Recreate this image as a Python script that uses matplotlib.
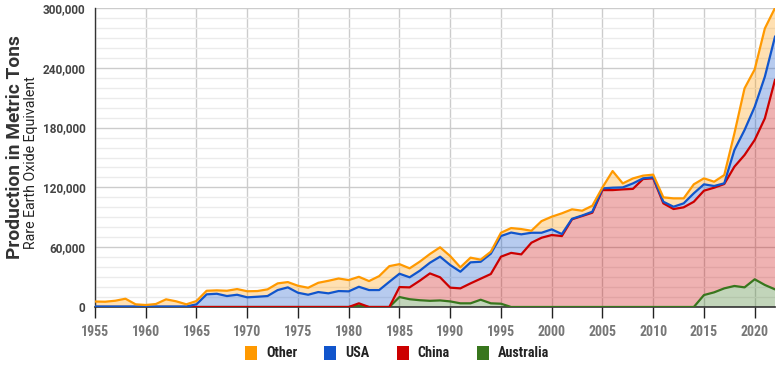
import matplotlib
matplotlib.use("Agg")
import matplotlib.pyplot as plt
import numpy as np
from matplotlib import font_manager
from matplotlib.patches import Patch
from matplotlib.ticker import FuncFormatter, MultipleLocator

# rare earth production, metric tons REO
years = np.arange(1955, 2023)

australia = [0] * 26 + [1500, 0, 0, 0,
             10000, 7800, 6800, 6200, 6600, 5600, 3700, 3700, 7300, 3700,
             3300] + [0] * 19 + [12000, 14700, 18700, 21100, 19700, 27800, 22100, 17700]

china = [0] * 26 + [2200, 0, 0, 0,
         10000, 11900, 19600, 27500, 23200, 13800, 15000, 20000, 21100, 29400,
         47200, 54300, 52800, 64500, 69500, 72200, 71200, 88000, 91300, 94600,
         117300, 117300, 118000, 118500, 128400, 129100, 104000, 98300, 100000, 105600,
         104700, 105000, 104700, 119700, 132800, 139800, 167200, 210100]

usa = [500] * 10 + [
    2700, 12700, 13300, 11000, 12300, 9700, 10300, 11000, 17000, 19700,
    14300, 12300, 15000, 13700, 16000, 15700, 16600, 17000, 17000, 25300,
    13400, 10100, 10000, 10700, 20700, 22700, 16700, 21100, 17000, 20400,
    20700, 20400, 20100, 10000, 5000, 5700, 2000, 500, 500, 1000,
    1700, 2400, 2000, 5500, 700, 1000, 1600, 2300, 4000, 8500,
    6400, 1700, 700, 16700, 25100, 33300, 41800, 43400]

other = [5000, 4800, 5800, 7800, 2200, 1500, 2500, 7200, 5200, 2200,
         3300, 3600, 3400, 5300, 5700, 6100, 5700, 6700, 6700, 5300,
         7000, 7000, 9300, 12600, 12600, 11300, 10000, 9000, 14000, 15700,
         9600, 9000, 9100, 8800, 9400, 9000, 4400, 4700, 2100, 2000,
         3300, 4500, 5300, 2000, 11700, 12700, 20800, 9500, 4800, 6000,
         1000, 16700, 4000, 5000, 2700, 2700, 4400, 8400, 5000, 9000,
         6000, 4300, 8300, 16700, 41800, 37500, 48400, 28800]

names = ["Australia", "China", "USA", "Other"]
colors = ["#38761d", "#cc0000", "#1155cc", "#ff9900"]

installed = {f.name for f in font_manager.fontManager.ttflist}
narrow = "Roboto"
for cand in ["Roboto Condensed", "Liberation Sans Narrow"]:
    if cand in installed:
        narrow = cand
        break
plt.rcParams["font.family"] = ["Roboto", "DejaVu Sans"]

fig = plt.figure(figsize=(7.8, 3.65), dpi=100)
ax = fig.add_axes([95 / 780, 1 - 307 / 365, 680 / 780, 299 / 365])

series = [np.array(s, dtype=float) for s in (australia, china, usa, other)]
ax.stackplot(years, *series, colors=colors, alpha=0.3, linewidth=0, zorder=2)
tops = np.cumsum(series, axis=0)
for top, c in zip(tops, colors):
    ax.plot(years, top, color=c, lw=1.6, zorder=3, solid_joinstyle="round")

ax.set_xlim(1955, 2022)
ax.set_ylim(0, 300000)
ax.xaxis.set_major_locator(MultipleLocator(5))
ax.yaxis.set_major_locator(MultipleLocator(60000))
ax.yaxis.set_minor_locator(MultipleLocator(10000))
ax.yaxis.set_major_formatter(FuncFormatter(lambda v, p: f"{v:,.0f}"))

ax.grid(axis="y", which="major", color="#cccccc", lw=1, zorder=0)
ax.grid(axis="y", which="minor", color="#ebebeb", lw=1, zorder=0)
ax.grid(axis="x", which="major", color="#cccccc", lw=1, zorder=0)
ax.set_axisbelow(True)

for side in ["top", "right"]:
    ax.spines[side].set_visible(False)
ax.spines["left"].set_color("#333333")
ax.spines["bottom"].set_color("#333333")
ax.spines["left"].set_linewidth(1)
ax.spines["bottom"].set_linewidth(1.2)

ax.tick_params(axis="x", which="major", length=8, width=1, color="#222222",
               pad=5, labelsize=10, labelcolor="#777777")
ax.tick_params(axis="y", which="both", length=0, pad=7, labelsize=8.5,
               labelcolor="#444444")
for lab in ax.get_xticklabels():
    lab.set_fontfamily([narrow, "DejaVu Sans"])
    lab.set_fontweight("bold")
for lab in ax.get_yticklabels():
    lab.set_fontweight("bold")

fig.text(15 / 780, 1 - 147 / 365, "Production in Metric Tons", rotation=90,
         ha="center", va="center", fontsize=13.8, fontweight="bold", color="#333333")
fig.text(31 / 780, 1 - 163 / 365, "Rare Earth Oxide Equivalent", rotation=90,
         ha="center", va="center", fontsize=10.2, color="#222222")

handles = [Patch(facecolor=c, edgecolor="none") for c in colors[::-1]]
leg = fig.legend(handles, names[::-1], loc="center", bbox_to_anchor=(397 / 780, 1 - 353 / 365),
                 ncol=4, frameon=False, handlelength=0.85, handleheight=1.15,
                 handletextpad=0.65, columnspacing=1.9, prop={"family": [narrow, "DejaVu Sans"],
                                                              "weight": "bold", "size": 10.2})
for t in leg.get_texts():
    t.set_color("#222222")

fig.savefig("out.png", dpi=100)
